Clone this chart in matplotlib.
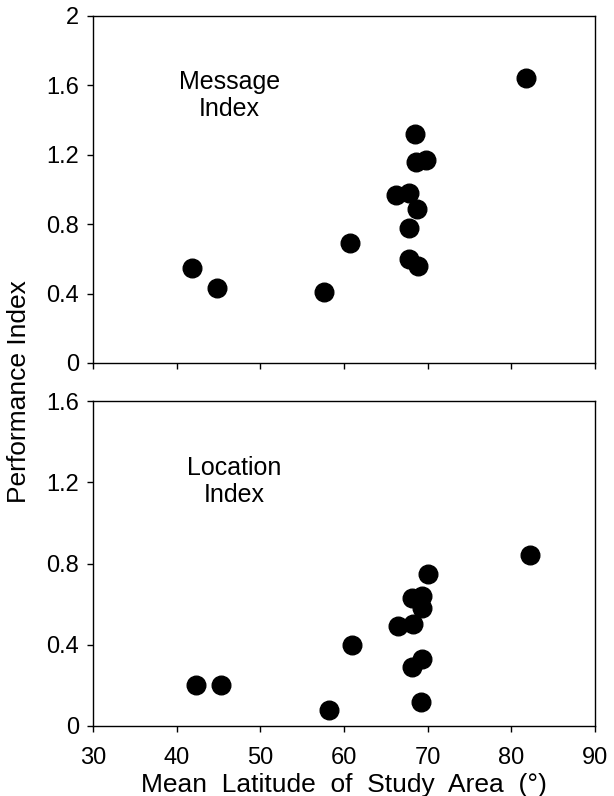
import matplotlib
matplotlib.use("Agg")
import matplotlib.pyplot as plt

# Message index (top panel)
msg_lat = [41.8, 44.8, 57.6, 60.7, 66.2, 67.8, 68.5, 68.6, 69.8, 68.7, 67.8, 67.8, 68.8, 81.7]
msg_idx = [0.55, 0.43, 0.41, 0.69, 0.97, 0.98, 1.32, 1.16, 1.17, 0.885, 0.78, 0.60, 0.56, 1.64]

# Location index (bottom panel)
loc_lat = [42.3, 45.3, 58.2, 61.0, 66.4, 68.2, 68.1, 69.3, 69.3, 70.0, 68.1, 69.3, 69.2, 82.2]
loc_idx = [0.20, 0.20, 0.08, 0.40, 0.49, 0.50, 0.63, 0.64, 0.58, 0.75, 0.29, 0.33, 0.12, 0.84]

x_ticks = [30, 40, 50, 60, 70, 80, 90]
msg_ticks = [0, 0.4, 0.8, 1.2, 1.6, 2]
loc_ticks = [0, 0.4, 0.8, 1.2, 1.6]

plt.rcParams['font.family'] = ['Liberation Sans', 'DejaVu Sans']

fig = plt.figure(figsize=(6.14, 7.96), dpi=100)
ax1 = fig.add_axes([0.1515, 0.544, 0.8176, 0.436])
ax2 = fig.add_axes([0.1515, 0.088, 0.8176, 0.408])


def style(ax, yticks, ylim, labels):
    ax.set_xlim(30, 90)
    ax.set_ylim(*ylim)
    ax.set_xticks(x_ticks)
    ax.set_yticks(yticks)
    ax.set_yticklabels([f"{t:g}" for t in yticks])
    if labels:
        ax.set_xticklabels([str(t) for t in x_ticks])
    else:
        ax.set_xticklabels([])
    ax.tick_params(direction='out', length=4, width=1, labelsize=17)
    ax.tick_params(axis='x', pad=11)
    ax.tick_params(axis='y', pad=6)
    for sp in ax.spines.values():
        sp.set_linewidth(1.0)


ax1.scatter(msg_lat, msg_idx, s=180, color='black', zorder=3)
style(ax1, msg_ticks, (0, 2), False)
ax1.text(0.272, 0.771, "Message\nIndex", transform=ax1.transAxes,
         ha='center', va='center', fontsize=18, linespacing=1.15)

ax2.scatter(loc_lat, loc_idx, s=180, color='black', zorder=3)
style(ax2, loc_ticks, (0, 1.6), True)
ax2.text(0.281, 0.754, "Location\nIndex", transform=ax2.transAxes,
         ha='center', va='center', fontsize=18, linespacing=1.15)

ax2.set_xlabel("Mean  Latitude  of  Study  Area  (°)", fontsize=19, labelpad=3)
fig.text(0.031, 0.5075, "Performance Index", rotation=90,
         ha='center', va='center', fontsize=19)

fig.savefig("out.png", dpi=100)
